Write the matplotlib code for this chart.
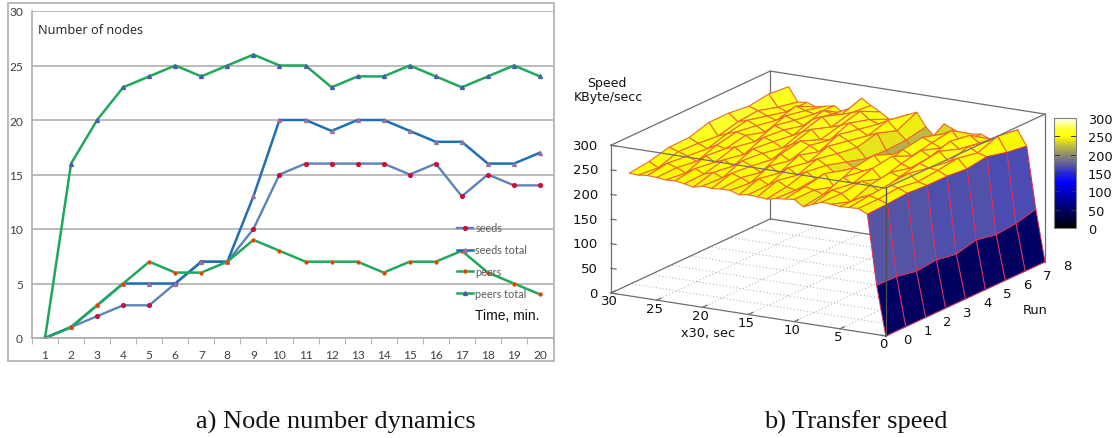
import numpy as np
import matplotlib
matplotlib.use('Agg')
import matplotlib.pyplot as plt
from matplotlib.colors import LinearSegmentedColormap, Normalize
from matplotlib.patches import Rectangle
from mpl_toolkits.mplot3d import proj3d

W, H = 1116, 439

# left chart
minutes = list(range(1, 21))
seeds = [0, 1, 2, 3, 3, 5, 7, 7, 10, 15, 16, 16, 16, 16, 15, 16, 13, 15, 14, 14]
seeds_total = [0, 1, 3, 5, 5, 5, 7, 7, 13, 20, 20, 19, 20, 20, 19, 18, 18, 16, 16, 17]
peers = [0, 1, 3, 5, 7, 6, 6, 7, 9, 8, 7, 7, 7, 6, 7, 7, 8, 6, 5, 4]
peers_total = [0, 16, 20, 23, 24, 25, 24, 25, 26, 25, 25, 23, 24, 24, 25, 24, 23, 24, 25, 24]

# right chart, one row per x step, one column per run
run_vals = list(range(9))
time_vals = list(range(29))
speed = [
    [0, 0, 0, 0, 0, 0, 0, 0, 0],
    [100, 99, 91, 95, 88, 98, 90, 94, 104],
    [241, 243, 246, 243, 243, 239, 245, 235, 229],
    [250, 250, 254, 248, 252, 258, 250, 265, 259],
    [249, 254, 258, 262, 254, 248, 260, 252, 250],
    [248, 247, 240, 252, 260, 266, 252, 245, 240],
    [250, 236, 252, 258, 248, 252, 265, 258, 232],
    [251, 250, 256, 242, 254, 262, 248, 240, 239],
    [244, 254, 248, 260, 266, 248, 256, 262, 236],
    [236, 242, 258, 252, 244, 258, 264, 252, 232],
    [248, 248, 236, 256, 262, 246, 232, 230, 240],
    [246, 252, 260, 248, 236, 226, 220, 222, 248],
    [244, 242, 246, 238, 228, 212, 208, 210, 218],
    [240, 246, 258, 252, 240, 228, 226, 228, 236],
    [242, 256, 248, 262, 254, 248, 258, 244, 263],
    [243, 244, 260, 252, 266, 258, 250, 262, 255],
    [240, 254, 246, 264, 252, 268, 260, 252, 245],
    [246, 242, 258, 250, 262, 254, 270, 258, 240],
    [246, 250, 242, 260, 268, 252, 262, 272, 252],
    [244, 256, 252, 246, 258, 270, 256, 266, 262],
    [246, 244, 260, 256, 248, 262, 274, 260, 274],
    [241, 252, 246, 262, 258, 252, 266, 258, 252],
    [245, 246, 256, 248, 264, 260, 250, 262, 238],
    [248, 254, 248, 260, 252, 266, 258, 252, 250],
    [247, 242, 258, 254, 262, 250, 264, 256, 246],
    [249, 250, 244, 258, 266, 260, 252, 262, 242],
    [250, 256, 252, 248, 260, 268, 258, 248, 248],
    [248, 244, 258, 256, 252, 262, 266, 254, 246],
    [249, 254, 264, 265, 277, 277, 272, 278, 274],
]
palette_at = [0, 50, 100, 125, 150, 170, 200, 225, 250, 270, 300]
palette_col = ['#000000', '#000066', '#0000c8', '#0000ff', '#2626dd', '#5555a5',
               '#8c8c70', '#c2bd3e', '#ffff00', '#ffff30', '#ffffff']

fig = plt.figure(figsize=(W / 100, H / 100), dpi=100)


def px_box(left, top, right, bottom):
    return [left / W, 1 - bottom / H, (right - left) / W, (bottom - top) / H]


# ---- left: the Excel line chart ----
fig.add_artist(Rectangle((8 / W, 1 - 362 / H), 546 / W, 358 / H, transform=fig.transFigure,
                         fill=False, edgecolor='#b4b4b4', linewidth=1.3))
ax = fig.add_axes(px_box(32, 12, 553, 339))
ax.plot(minutes, seeds, color='#5c82b8', lw=1.7, marker='o', ms=2.7, mfc='#c8123c', mec='#c8123c', label='seeds')
ax.plot(minutes, seeds_total, color='#1f6fb4', lw=1.8, marker='^', ms=2.8, mfc='#a0709c', mec='#a0709c',
        label='seeds total')
ax.plot(minutes, peers, color='#1fa85c', lw=1.8, marker='o', ms=2.7, mfc='#e4300c', mec='#e8801c', mew=0.5,
        label='peers')
ax.plot(minutes, peers_total, color='#1fa85c', lw=1.8, marker='^', ms=2.8, mfc='#4a5cac', mec='#4a5cac',
        label='peers total')
ax.set_xlim(0.5, 20.5)
ax.set_ylim(0, 30)
ax.set_yticks(range(0, 31, 5))
ax.set_xticks(minutes)
ax.set_xticks(np.arange(0.5, 21, 1), minor=True)
ax.grid(axis='y', color='#a8a8a8', lw=1.1)
ax.set_axisbelow(True)
ax.tick_params(axis='y', length=0, pad=6.5, labelsize=8.6, labelcolor='#404040')
ax.tick_params(axis='x', which='major', length=0, pad=8, labelsize=8.6, labelcolor='#404040')
ax.tick_params(axis='x', which='minor', length=4, color='#a8a8a8')
for side in ['top', 'right']:
    ax.spines[side].set_visible(False)
for side in ['left', 'bottom']:
    ax.spines[side].set_color('#a8a8a8')
    ax.spines[side].set_linewidth(1.1)
for lab in ax.get_xticklabels() + ax.get_yticklabels():
    lab.set_family('Lato')
leg = ax.legend(loc='upper left', bbox_to_anchor=(457 / W, 1 - 223.5 / H), bbox_transform=fig.transFigure,
                frameon=False, prop={'family': 'Lato', 'size': 7.8}, labelcolor='#5a5a5a',
                handlelength=1.5, handletextpad=0.2, labelspacing=1.0, borderpad=0, borderaxespad=0)
fig.text(38 / W, 1 - 30 / H, 'Number of nodes', family='Open Sans', fontsize=9.2, color='#222222', va='center')
fig.text(507 / W, 1 - 316 / H, 'Time, min.', family='Liberation Sans', fontsize=10, color='#111111',
         ha='center', va='center')

# ---- right: the gnuplot surface ----
ax3 = fig.add_axes(px_box(600, 0, 1000, 400), projection='3d', proj_type='ortho')
ax3.computed_zorder = False
ax3.set_axis_off()
ax3.patch.set_alpha(0)
ax3.view_init(elev=15.65, azim=-59.9)
ax3.set_box_aspect((318, 318, 153.7))
ax3.set_xlim(30, 0)
ax3.set_ylim(0, 8)
ax3.set_zlim(0, 300)


def to_px(x, y, z):
    # where a data point lands, in pixels from the top left of the figure
    fig.canvas.draw()
    u, v, _ = proj3d.proj_transform(x, y, z, ax3.get_proj())
    d = ax3.transData.transform((u, v))
    return d[0], H - d[1]


# fit the box onto the reference corners
a = to_px(30, 0, 0)
b = to_px(0, 8, 0)
scale = (1045 - 611) / (b[0] - a[0])
side = 400 * scale
ax3.set_position(px_box(600, 0, 600 + side, side))
a = to_px(30, 0, 0)
ax3.set_position(px_box(600 + 611 - a[0], 294 - a[1], 600 + 611 - a[0] + side, 294 - a[1] + side))
ax3.apply_aspect()

box_col = '#6e6e6e'
dot_col = '#a8a8a8'


def seg(p, q, color=box_col, lw=0.9, ls='-', zorder=1):
    ax3.plot([p[0], q[0]], [p[1], q[1]], [p[2], q[2]], color=color, lw=lw, ls=ls, zorder=zorder)


# floor grid
for t in range(5, 30, 5):
    seg((t, 0, 0), (t, 8, 0), dot_col, 0.7, (0, (1, 2.5)))
for r in range(1, 8):
    seg((0, r, 0), (30, r, 0), dot_col, 0.7, (0, (1, 2.5)))

# back of the box
seg((30, 0, 0), (30, 8, 0))
seg((30, 8, 0), (0, 8, 0))
seg((30, 8, 0), (30, 8, 300))
seg((0, 8, 0), (0, 8, 300))
seg((30, 0, 300), (30, 8, 300))
seg((30, 8, 300), (0, 8, 300))
seg((30, 0, 0), (30, 0, 300))
seg((30, 0, 0), (0, 0, 0))
seg((0, 0, 0), (0, 8, 0))

# ticks
for zv in range(0, 301, 50):
    seg((30, 0, zv), (29.45, 0, zv), lw=0.9)
for t in range(0, 31, 5):
    seg((t, 0, 0), (t, 0.22, 0), lw=0.9)
for r in range(0, 9):
    seg((0, r, 0), (0.5, r, 0), lw=0.9)

cmap = LinearSegmentedColormap.from_list('gnu', [(v / 300, c) for v, c in zip(palette_at, palette_col)])
norm = Normalize(0, 300)
T, R = np.meshgrid(time_vals, run_vals, indexing='ij')
Z = np.array(speed, dtype=float)
# top of the surface, then the steep wall at the front with its redder mesh
ax3.plot_surface(T[2:], R[2:], Z[2:], rstride=1, cstride=1, cmap=cmap, norm=norm,
                 edgecolor='#ee6a2a', linewidth=0.8, shade=False, antialiased=True, zorder=2)
ax3.plot_surface(T[:3], R[:3], Z[:3], rstride=1, cstride=1, cmap=cmap, norm=norm,
                 edgecolor='#d8305a', linewidth=0.7, shade=False, antialiased=True, zorder=2.5)

# front of the box, over the surface
seg((30, 0, 300), (0, 0, 300), zorder=3)
seg((0, 0, 300), (0, 8, 300), zorder=3)
seg((0, 0, 0), (0, 0, 300), zorder=3, color='#505050')


def label_at(x, y, z, s, dx, dy, ha='center'):
    px, py = to_px(x, y, z)
    fig.text((px + dx) / W, 1 - (py + dy) / H, s, fontsize=9.5, color='#111111', ha=ha, va='center',
             family='DejaVu Sans')


for zv in range(0, 301, 50):
    label_at(30, 0, zv, str(zv), -13, 0, ha='right')
for t in range(0, 31, 5):
    label_at(t, 0, 0, str(t), -2, 8)
for r in range(0, 9):
    label_at(0, r, 0, str(r), 22, 4)

fig.text(607 / W, 1 - 83 / H, 'Speed', fontsize=9, color='#111111', ha='center', va='center')
fig.text(608 / W, 1 - 98 / H, 'KByte/secc', fontsize=9, color='#111111', ha='center', va='center')
fig.text(708 / W, 1 - 334 / H, 'x30, sec', fontsize=9.3, color='#111111', ha='center', va='center')
fig.text(1035 / W, 1 - 311 / H, 'Run', fontsize=9.3, color='#111111', ha='center', va='center')

# colour bar
cax = fig.add_axes(px_box(1054, 119, 1076, 229))
cbar = fig.colorbar(plt.cm.ScalarMappable(norm=norm, cmap=cmap), cax=cax, ticks=range(0, 301, 50))
cbar.ax.tick_params(length=0, pad=8.5, labelsize=9.3, labelcolor='#111111')
cbar.outline.set_edgecolor('#808080')
cbar.outline.set_linewidth(0.8)
for zv in range(0, 301, 50):
    cax.plot([0, 0.22], [zv, zv], color='#333333', lw=0.7, transform=cax.get_yaxis_transform())
    cax.plot([0.78, 1], [zv, zv], color='#333333', lw=0.7, transform=cax.get_yaxis_transform())
cax.set_xlim(0, 1)

# captions
fig.text(336 / W, 1 - 422 / H, 'a) Node number dynamics', family='Liberation Serif', fontsize=19,
         color='#111111', ha='center', va='center')
fig.text(856 / W, 1 - 422 / H, 'b) Transfer speed', family='Liberation Serif', fontsize=19,
         color='#111111', ha='center', va='center')

fig.savefig('out.png', dpi=100)
